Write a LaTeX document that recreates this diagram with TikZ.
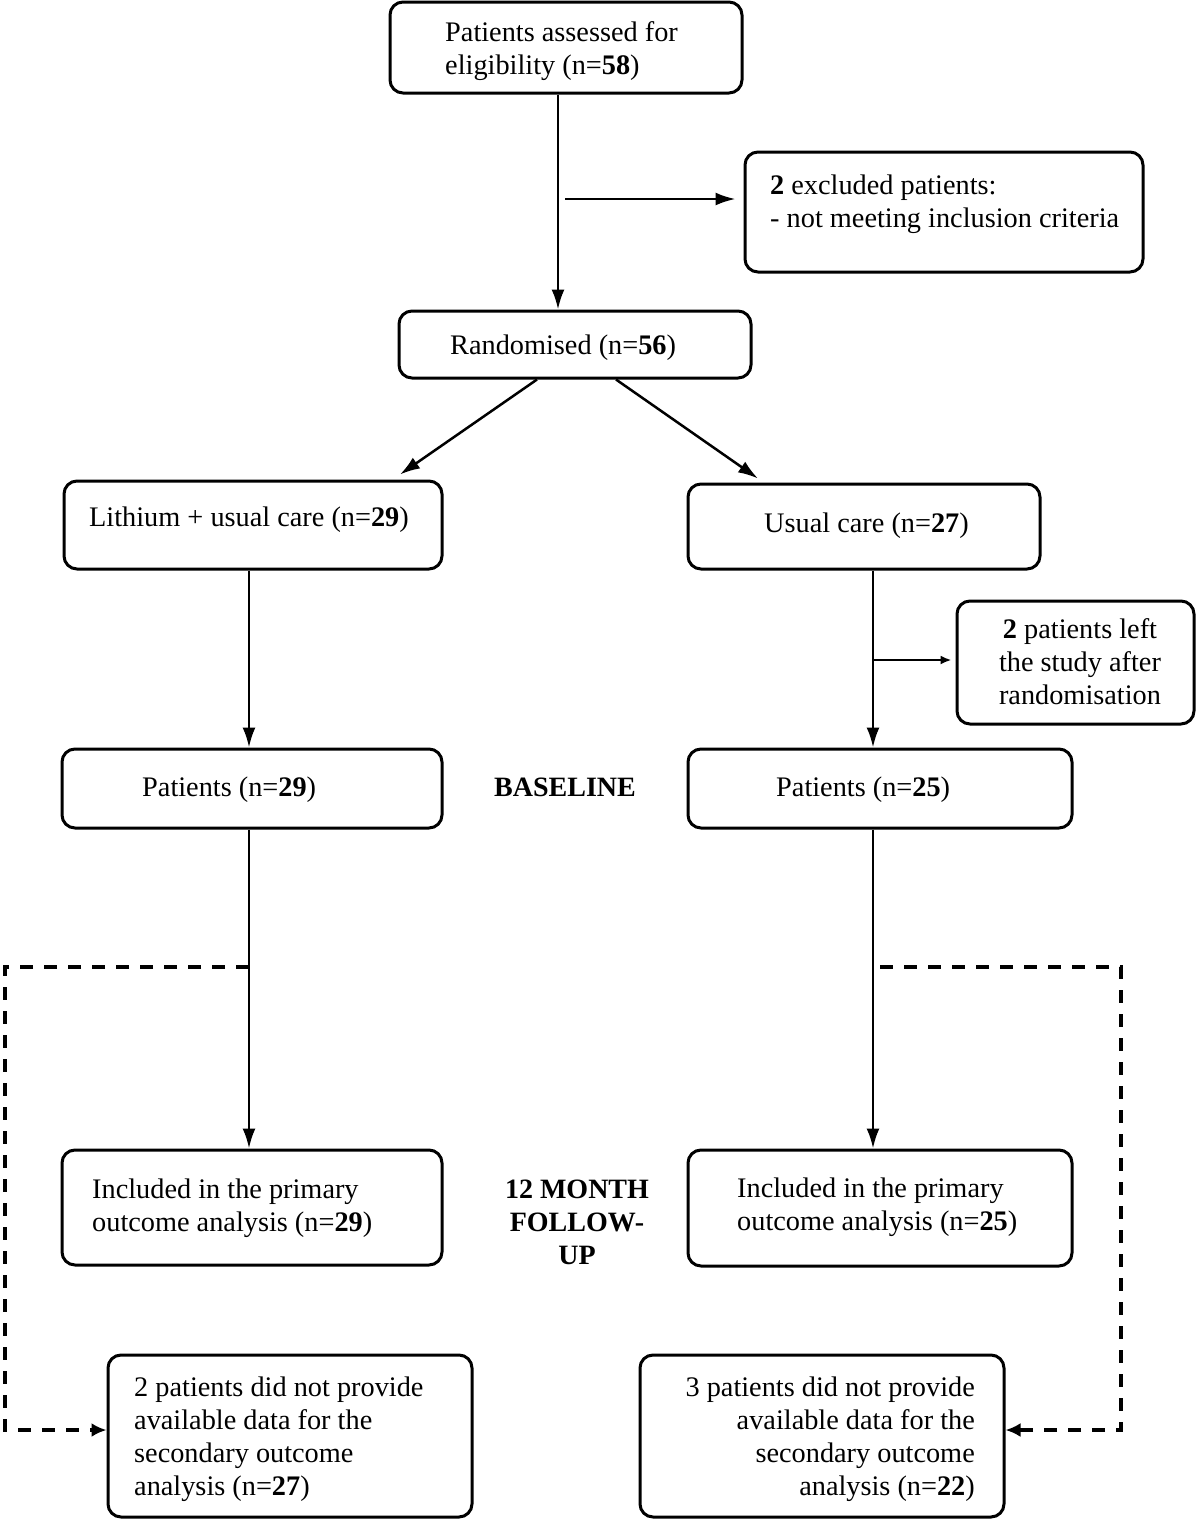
\documentclass[tikz,border=0pt]{standalone}
\usepackage{fontspec}
\setmainfont{Liberation Serif}
\usetikzlibrary{arrows.meta}
\begin{document}
\begin{tikzpicture}[x=1pt,y=-1pt,
 box/.style={draw, line width=3pt, rounded corners=13pt, inner sep=0pt},
 txt/.style={font=\fontsize{28.3}{33}\selectfont, inner sep=0pt, align=left, yshift=-2.5pt},
 hdr/.style={font=\fontsize{28}{33}\selectfont\bfseries, inner sep=0pt, align=center},
 arr/.style={line width=2.5pt, -{Latex[length=20pt,width=13pt]}},
 sarr/.style={line width=2.5pt, -{Latex[length=11pt,width=9pt]}},
 darr/.style={line width=3.3pt, dash pattern=on 13pt off 11pt, -{Latex[length=15pt,width=14pt]}},
]
\useasboundingbox (0,0) rectangle (1200,1519);

% boxes
\node[box, minimum width=352pt, minimum height=91pt] (top) at (566,47.5) {};
\node[box, minimum width=398pt, minimum height=120pt] (excl) at (944,212) {};
\node[box, minimum width=352pt, minimum height=67pt] (rand) at (575,344.5) {};
\node[box, minimum width=378pt, minimum height=88pt] (lith) at (253,525) {};
\node[box, minimum width=352pt, minimum height=85pt] (usual) at (864,526.5) {};
\node[box, minimum width=237pt, minimum height=123pt] (left) at (1075.5,662.5) {};
\node[box, minimum width=380pt, minimum height=79pt] (pa) at (252,788.5) {};
\node[box, minimum width=384pt, minimum height=79pt] (pb) at (880,788.5) {};
\node[box, minimum width=380pt, minimum height=115pt] (ia) at (252,1207.5) {};
\node[box, minimum width=384pt, minimum height=116pt] (ib) at (880,1208) {};
\node[box, minimum width=364pt, minimum height=162pt] (sa) at (290,1436) {};
\node[box, minimum width=364pt, minimum height=162pt] (sb) at (822,1436) {};

% texts
\node[txt, anchor=west] (t1) at (445,49) {Patients assessed for\\eligibility (n=\textbf{58})};
\node[txt, anchor=west] (t2) at (770,202) {\textbf{2} excluded patients:\\- not meeting inclusion criteria};
\node[txt, anchor=west] (t3) at (450,345) {Randomised (n=\textbf{56})};
\node[txt, anchor=west] (t4) at (89,517) {Lithium + usual care (n=\textbf{29})};
\node[txt, anchor=west] (t5) at (764,523) {Usual care (n=\textbf{27})};
\node[txt, align=center] (t6) at (1080,659) {\textbf{2} patients left\\the study after\\randomisation};
\node[txt, anchor=west] (t7) at (142,787) {Patients (n=\textbf{29})};
\node[hdr] (t8) at (565,787) {BASELINE};
\node[txt, anchor=west] (t9) at (776,787) {Patients (n=\textbf{25})};
\node[txt, anchor=west] (t10) at (92,1206) {Included in the primary\\outcome analysis (n=\textbf{29})};
\node[hdr] (t11) at (577,1222) {12 MONTH\\FOLLOW-\\UP};
\node[txt, anchor=west] (t12) at (737,1204.5) {Included in the primary\\outcome analysis (n=\textbf{25})};
\node[txt, anchor=west] (t13) at (134,1437) {2 patients did not provide\\available data for the\\secondary outcome\\analysis (n=\textbf{27})};
\node[txt, anchor=east, align=right] (t14) at (975,1437) {3 patients did not provide\\available data for the\\secondary outcome\\analysis (n=\textbf{22})};

% connectors
\draw[arr] ([xshift=-8pt]top.south) -- ([xshift=-8pt]top.south |- rand.north);
\coordinate (ex0) at (565,199);
\draw[arr, shorten >=8pt] (ex0) -- (ex0 -| excl.west);
\draw[arr] ([xshift=-38pt]rand.south) -- ([xshift=147pt,yshift=5pt]lith.north);
\draw[arr] ([xshift=41pt]rand.south) -- ([xshift=-106pt,yshift=4pt]usual.north);
\draw[arr] ([xshift=-4pt]lith.south) -- ([xshift=-4pt]lith.south |- pa.north);
\draw[arr] ([xshift=9pt]usual.south) -- ([xshift=9pt]usual.south |- pb.north);
\coordinate (ls0) at (873,660);
\draw[sarr, shorten >=4pt] (ls0) -- (ls0 -| left.west);
\draw[arr] ([xshift=-3pt]pa.south) -- ([xshift=-3pt]pa.south |- ia.north);
\draw[arr] ([xshift=-7pt]pb.south) -- ([xshift=-7pt]pb.south |- ib.north);
\coordinate (da0) at (249,967);
\coordinate (da1) at (5,1430);
\draw[darr] (da0) -| (da1) -- (da1 -| sa.west);
\coordinate (db0) at (880,967);
\coordinate (db1) at (1121,1430);
\draw[darr] (db0) -| (db1) -- (db1 -| sb.east);
\end{tikzpicture}
\end{document}
